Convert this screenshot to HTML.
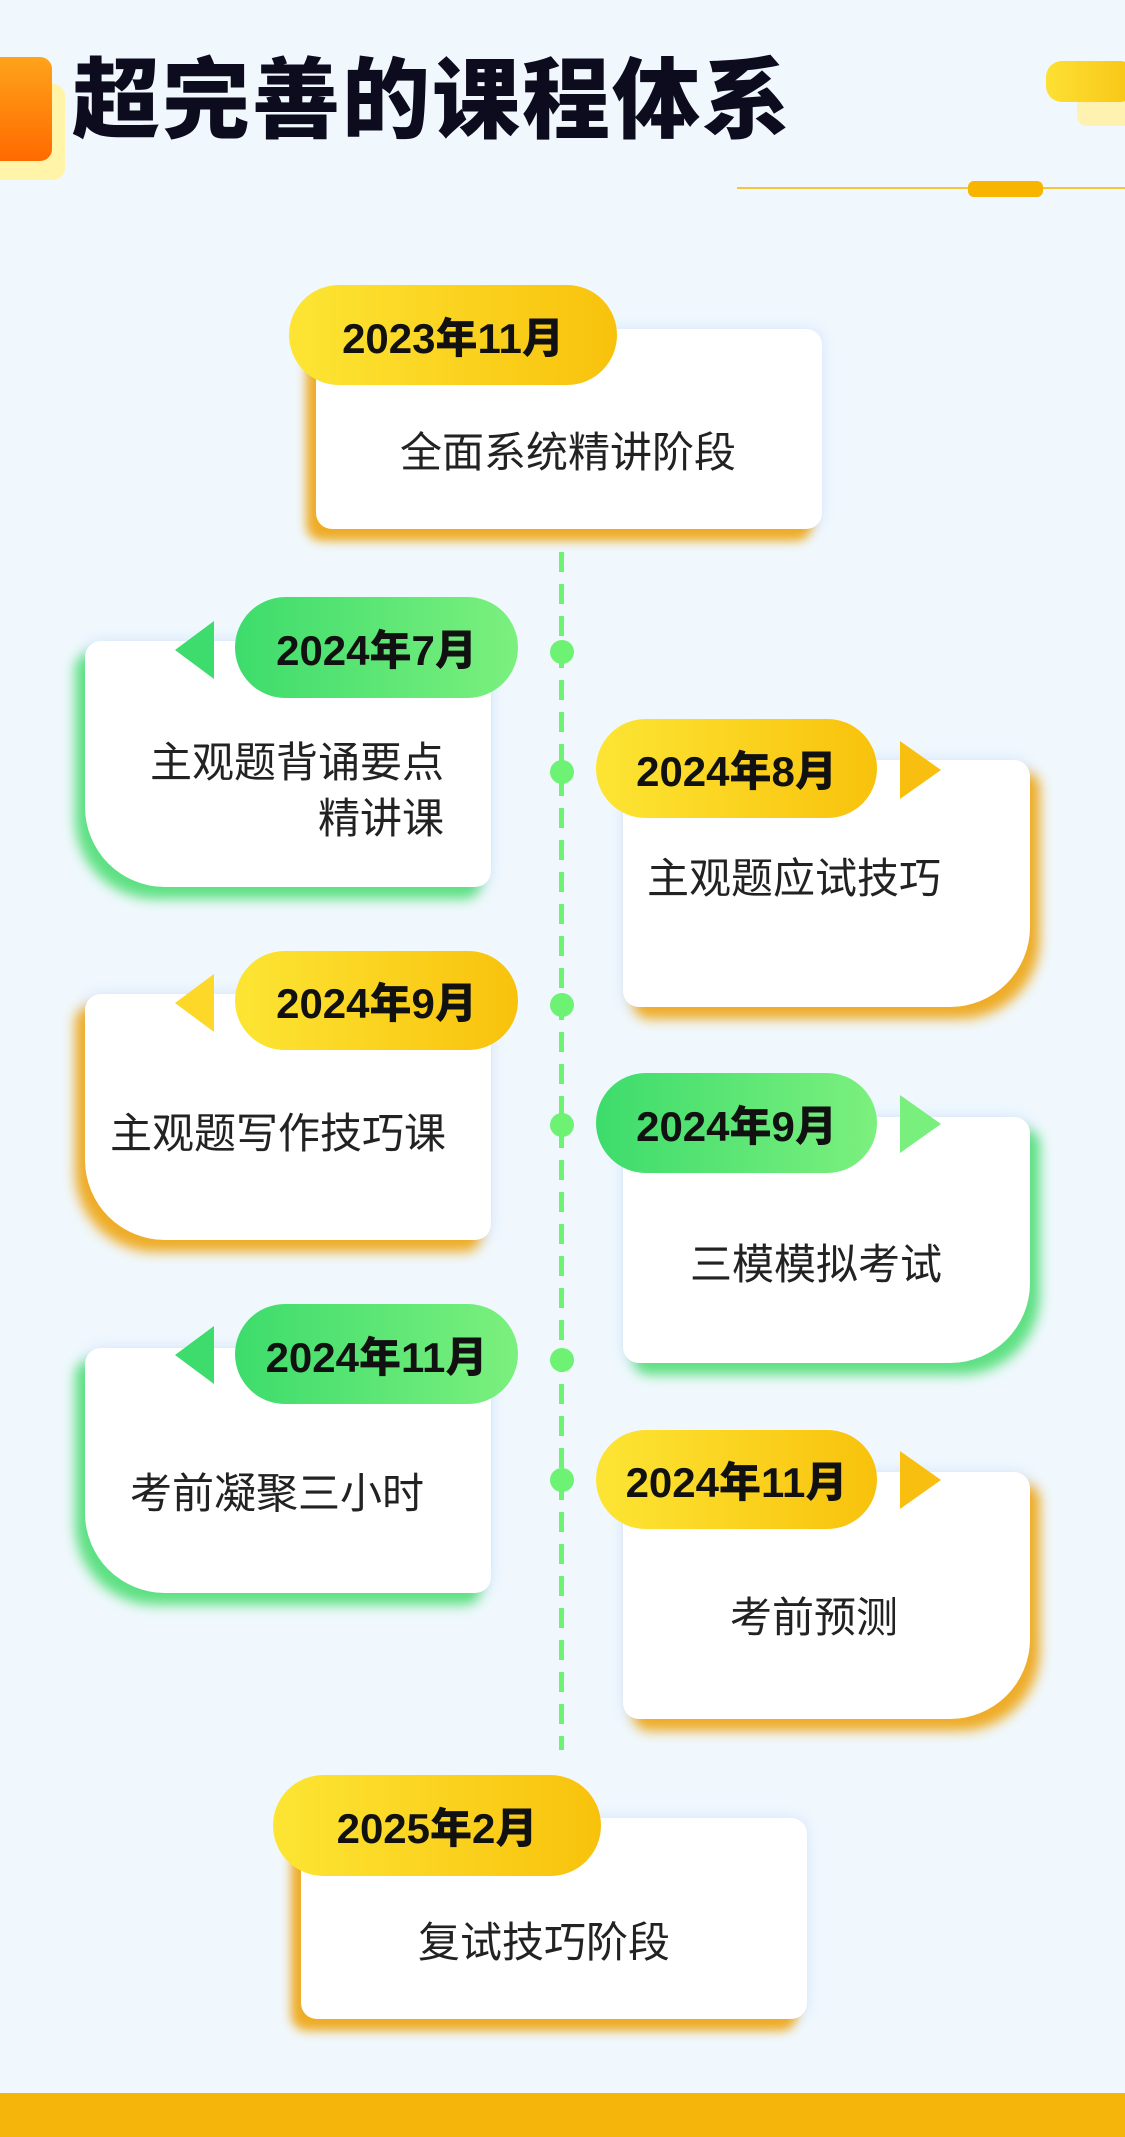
<!DOCTYPE html>
<html><head><meta charset="utf-8"><style>
*{margin:0;padding:0;box-sizing:border-box}
body{width:1125px;height:2137px;background:#f0f8fd;position:relative;overflow:hidden;font-family:"Liberation Sans","Noto Sans CJK SC",sans-serif}
.a{position:absolute}
.title{position:absolute;left:72px;top:46px;font-size:88px;font-weight:900;color:#0d0b1e;letter-spacing:2px;line-height:96px;white-space:nowrap;font-family:"Noto Sans CJK SC",sans-serif}
.card{position:absolute;background:#fff;border-radius:16px;box-shadow:-2px 0 14px rgba(180,205,255,.45)}
.L{border-bottom-left-radius:80px}
.R{border-bottom-right-radius:80px}
.pill{position:absolute;border-radius:52px;font-weight:900;font-size:42px;color:#111;display:flex;align-items:center;justify-content:center;font-family:"Liberation Sans","Noto Sans CJK SC",sans-serif}
.y{background:linear-gradient(90deg,#fde534,#f8c20c)}
.g{background:linear-gradient(90deg,#3ddc6c,#7cf07e)}
.txt{position:absolute;font-size:42px;color:#222;font-family:"Noto Sans CJK SC",sans-serif;line-height:56px;white-space:nowrap}
.dot{position:absolute;width:24px;height:24px;border-radius:50%;background:#6df274;left:550px}
.tl{position:absolute;width:0;height:0;border-top:29px solid transparent;border-bottom:29px solid transparent}
</style></head><body>
<div class="a" style="left:0;top:84px;width:65px;height:96px;background:#fff4a8;border-radius:0 12px 12px 0"></div>
<div class="a" style="left:0;top:57px;width:52px;height:104px;background:linear-gradient(180deg,#ffa31a,#ff6a00);border-radius:0 12px 12px 0"></div>
<div class="title">超完善的课程体系</div>
<div class="a" style="left:1077px;top:89px;width:60px;height:37px;background:#fff1b0;border-radius:10px"></div>
<div class="a" style="left:1046px;top:61px;width:90px;height:41px;background:linear-gradient(90deg,#fde034,#f8c514);border-radius:16px"></div>
<div class="a" style="left:737px;top:187px;width:388px;height:2px;background:#f6c53a"></div>
<div class="a" style="left:968px;top:181px;width:75px;height:16px;background:#f7b500;border-radius:6px"></div>

<div class="a" style="left:559px;top:552px;width:5px;height:1198px;background:repeating-linear-gradient(180deg,#6df274 0 20px,transparent 20px 32px)"></div>

<div class="card" style="left:316px;top:329px;width:506px;height:200px;box-shadow:-10px 12px 10px rgba(240,160,0,.85),0 0 14px rgba(180,205,255,.45)"></div>
<div class="pill y" style="left:289px;top:285px;width:328px;height:100px">2023年11月</div>
<div class="txt" style="left:400px;top:422px">全面系统精讲阶段</div>

<div class="card L" style="left:85px;top:641px;width:406px;height:246px;box-shadow:-10px 12px 12px rgba(60,220,100,.8),0 0 14px rgba(180,205,255,.45)"></div>
<div class="tl" style="left:175px;top:621px;border-right:39px solid #3ddc6c"></div>
<div class="pill g" style="left:235px;top:597px;width:283px;height:101px">2024年7月</div>
<div class="txt" style="left:130px;top:732px;text-align:right;width:314px">主观题背诵要点<br>精讲课</div>
<div class="dot" style="top:640px"></div>

<div class="card R" style="left:623px;top:760px;width:407px;height:247px;box-shadow:10px 12px 12px rgba(240,160,0,.85),0 0 14px rgba(180,205,255,.45)"></div>
<div class="tl" style="left:900px;top:741px;border-left:41px solid #f9bf10"></div>
<div class="pill y" style="left:596px;top:719px;width:281px;height:99px">2024年8月</div>
<div class="txt" style="left:647px;top:848px">主观题应试技巧</div>
<div class="dot" style="top:760px"></div>

<div class="card L" style="left:85px;top:994px;width:406px;height:246px;box-shadow:-10px 12px 12px rgba(240,160,0,.85),0 0 14px rgba(180,205,255,.45)"></div>
<div class="tl" style="left:175px;top:974px;border-right:39px solid #fdd829"></div>
<div class="pill y" style="left:235px;top:951px;width:283px;height:99px">2024年9月</div>
<div class="txt" style="left:110px;top:1103px">主观题写作技巧课</div>
<div class="dot" style="top:993px"></div>

<div class="card R" style="left:623px;top:1117px;width:407px;height:246px;box-shadow:10px 12px 12px rgba(60,220,100,.8),0 0 14px rgba(180,205,255,.45)"></div>
<div class="tl" style="left:900px;top:1095px;border-left:41px solid #79ef7e"></div>
<div class="pill g" style="left:596px;top:1073px;width:281px;height:100px">2024年9月</div>
<div class="txt" style="left:690px;top:1234px">三模模拟考试</div>
<div class="dot" style="top:1113px"></div>

<div class="card L" style="left:85px;top:1348px;width:406px;height:245px;box-shadow:-10px 12px 12px rgba(60,220,100,.8),0 0 14px rgba(180,205,255,.45)"></div>
<div class="tl" style="left:175px;top:1326px;border-right:39px solid #3ddc6c"></div>
<div class="pill g" style="left:235px;top:1304px;width:283px;height:100px">2024年11月</div>
<div class="txt" style="left:130px;top:1463px">考前凝聚三小时</div>
<div class="dot" style="top:1348px"></div>

<div class="card R" style="left:623px;top:1472px;width:407px;height:247px;box-shadow:10px 12px 12px rgba(240,160,0,.85),0 0 14px rgba(180,205,255,.45)"></div>
<div class="tl" style="left:900px;top:1451px;border-left:41px solid #f9bf10"></div>
<div class="pill y" style="left:596px;top:1430px;width:281px;height:99px">2024年11月</div>
<div class="txt" style="left:730px;top:1587px">考前预测</div>
<div class="dot" style="top:1468px"></div>

<div class="card" style="left:301px;top:1818px;width:506px;height:201px;box-shadow:-10px 12px 10px rgba(240,160,0,.85),0 0 14px rgba(180,205,255,.45)"></div>
<div class="pill y" style="left:273px;top:1775px;width:328px;height:101px">2025年2月</div>
<div class="txt" style="left:418px;top:1912px">复试技巧阶段</div>

<div class="a" style="left:0;top:2093px;width:1125px;height:44px;background:#f5b50a"></div>
</body></html>
